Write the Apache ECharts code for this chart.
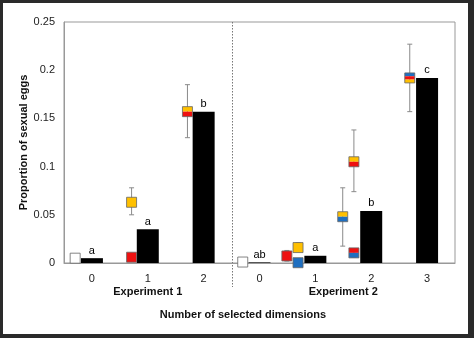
<!DOCTYPE html>
<html><head><meta charset="utf-8">
<script src="https://cdn.jsdelivr.net/npm/echarts@6/dist/echarts.min.js"></script>
<style>html,body{margin:0;padding:0;background:#fff}#c{width:474px;height:338px}</style>
</head><body><div id="c"></div>
<script>
// ---- data ----
const categories = ['0','1','2','0','1','2','3'];
const groupNames = ['Experiment 1','Experiment 2'];
const groupCats = [[0,1,2],[3,4,5,6]];
const barValues = [0.005, 0.035, 0.157, 0.0006, 0.0075, 0.054, 0.192];
const barLetters = ['a','a','b','ab','a','b','c'];
const yTicks = [0, 0.05, 0.1, 0.15, 0.2, 0.25];
// markers: category index, mean, low, high, colours (top to bottom)
const markerCat  = [0, 1, 1, 2, 3, 4, 4, 4, 5, 5, 5, 6];
const markerMean = [0.005, 0.006, 0.063, 0.157, 0.001, 0.0073, 0.016, 0.0003, 0.048, 0.105, 0.0105, 0.192];
const markerLow  = [0.005, 0.006, 0.050, 0.130, 0.001, 0.002, 0.012, 0.0003, 0.0175, 0.074, 0.006, 0.157];
const markerHigh = [0.005, 0.006, 0.078, 0.185, 0.001, 0.013, 0.021, 0.0003, 0.078, 0.138, 0.014, 0.227];
const markerColors = [['W'],['R'],['Y'],['Y','R'],['W'],['R'],['Y'],['B'],['Y','B'],['Y','R'],['R','B'],['B','R','Y']];
// ---- layout / style ----
const markerShift = [-0.30,-0.29,-0.29,-0.29,-0.30,-0.51,-0.31,-0.31,-0.51,-0.31,-0.31,-0.31];
const palette = {W:'#ffffff', R:'#ee1111', Y:'#ffc000', B:'#1f6fc0'};
const FONT = '"Liberation Sans", Arial, sans-serif';

const chart = echarts.init(document.getElementById('c'));
const option = {
  animation:false,
  textStyle:{fontFamily:FONT},
  grid:{left:64,right:19,top:22,bottom:75,show:true,borderColor:'#999',borderWidth:1,backgroundColor:'transparent'},
  xAxis:{type:'category',data:categories,
    axisLine:{show:true,lineStyle:{color:'#999'}},axisTick:{show:false},
    axisLabel:{color:'#222',fontSize:11,margin:10,fontFamily:FONT}},
  yAxis:{type:'value',min:0,max:0.25,interval:0.05,
    name:'Proportion of sexual eggs',nameLocation:'middle',nameGap:35,nameMoveOverlap:false,
    nameTextStyle:{fontWeight:'bold',fontSize:11,color:'#111',fontFamily:FONT},
    splitLine:{show:false},axisLine:{show:true,lineStyle:{color:'#999'}},axisTick:{show:false},
    axisLabel:{color:'#222',fontSize:11,margin:9,fontFamily:FONT,
      formatter:v=>{const t=yTicks.find(x=>Math.abs(x-v)<1e-9);return String(t!==undefined?t:v);}}},
  series:[
    {type:'bar',data:barValues,barWidth:22,itemStyle:{color:'#000'},
     label:{show:true,position:'top',distance:2,fontSize:11,color:'#000',fontFamily:FONT,
       formatter:p=>barLetters[p.dataIndex]}},
    {type:'custom',z:5,
     data:markerCat.map((c,i)=>[c,markerMean[i],markerLow[i],markerHigh[i]]),
     renderItem:(params,api)=>{
       const i=params.dataIndex;
       const band=api.size([1,0])[0];
       const c=api.value(0);
       const p=api.coord([c,api.value(1)]);
       const x=p[0]+markerShift[i]*band;
       const s=10;
       const children=[];
       const lo=api.value(2), hi=api.value(3);
       if(hi>lo){
         const yh=api.coord([c,hi])[1], yl=api.coord([c,lo])[1];
         const ls={stroke:'#8a8a8a',lineWidth:1};
         children.push({type:'line',shape:{x1:x,y1:yh,x2:x,y2:yl},style:ls});
         children.push({type:'line',shape:{x1:x-2.5,y1:yh,x2:x+2.5,y2:yh},style:ls});
         children.push({type:'line',shape:{x1:x-2.5,y1:yl,x2:x+2.5,y2:yl},style:ls});
       }
       const cols=markerColors[i];
       const h=s/cols.length;
       cols.forEach((k,j)=>{
         children.push({type:'rect',shape:{x:x-s/2,y:p[1]-s/2+j*h,width:s,height:h},style:{fill:palette[k]}});
       });
       children.push({type:'rect',shape:{x:x-s/2,y:p[1]-s/2,width:s,height:s},style:{fill:'none',stroke:'#666',lineWidth:0.8}});
       return {type:'group',children};
     }}
  ]
};
chart.setOption(option);

// group labels, divider, title, frame
const yBase = chart.convertToPixel({yAxisIndex:0},0);
const yTop = chart.convertToPixel({yAxisIndex:0},0.25);
const cx = i=>chart.convertToPixel({xAxisIndex:0},i);
const divX = Math.round((cx(2)+cx(3))/2)+0.5;
const gText = groupNames.map((n,g)=>{
  const cs=groupCats[g];
  const mid=(cx(cs[0])+cx(cs[cs.length-1]))/2;
  return {type:'text',x:mid,y:yBase+29,style:{text:n,fontFamily:FONT,fontWeight:'bold',fontSize:11,fill:'#111',align:'center',verticalAlign:'middle'}};
});
chart.setOption({graphic:[
  ...gText,
  {type:'line',shape:{x1:divX,y1:yTop,x2:divX,y2:yBase+24},style:{stroke:'#777',lineWidth:1,lineDash:[1.5,1.5]}},
  {type:'text',x:243,y:yBase+52,style:{text:'Number of selected dimensions',fontFamily:FONT,fontWeight:'bold',fontSize:11,fill:'#111',align:'center',verticalAlign:'middle'}},
  {type:'rect',shape:{x:0,y:0,width:474,height:3},style:{fill:'#2a2a2a'}},
  {type:'rect',shape:{x:0,y:0,width:3,height:338},style:{fill:'#2a2a2a'}},
  {type:'rect',shape:{x:468,y:0,width:6,height:338},style:{fill:'#2a2a2a'}},
  {type:'rect',shape:{x:0,y:334,width:474,height:4},style:{fill:'#2a2a2a'}}
]});
</script></body></html>
